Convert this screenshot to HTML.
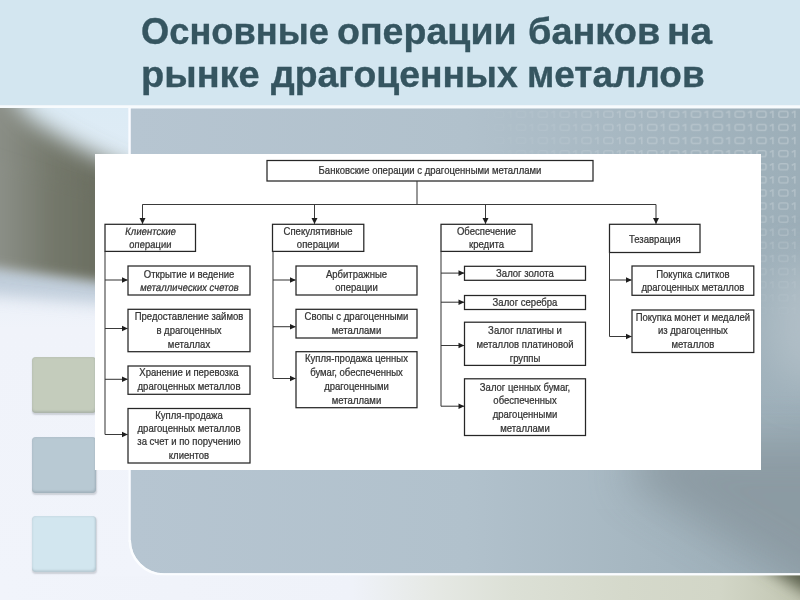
<!DOCTYPE html>
<html lang="ru">
<head>
<meta charset="utf-8">
<title>Основные операции банков на рынке драгоценных металлов</title>
<style>
html,body{margin:0;padding:0;}
body{width:800px;height:600px;overflow:hidden;position:relative;background:#f1f4fb;font-family:"Liberation Sans",sans-serif;}
.abs{position:absolute;}
.sq{left:31.5px;width:64.5px;height:56px;border-radius:4px;box-shadow:0.5px 1.5px 1.5px rgba(60,70,80,0.20), inset -1px -2px 2px rgba(60,70,80,0.12), inset 0 0 2.5px rgba(60,70,80,0.16);}
#sq1{top:356.5px;background:#c4ccbc;}
#sq2{top:436.5px;background:#b8c9d3;}
#sq3{top:515.7px;background:#d2e6ef;}
#title{left:0;top:0;width:800px;height:105px;color:#355560;font-weight:bold;font-size:37px;line-height:41px;white-space:nowrap;}
.tw{-webkit-text-stroke:0.35px #355560;position:absolute;transform-origin:0 0;display:block;white-space:pre;}
#white{left:95.25px;top:154.25px;width:666px;height:315.65px;background:#fff;}
</style>
</head>
<body>
<svg class="abs" id="bg" width="800" height="600" viewBox="0 0 800 600" style="left:0;top:0">
<defs>
<filter id="b8" x="-30%" y="-30%" width="160%" height="160%"><feGaussianBlur stdDeviation="8"/></filter>
<filter id="b6" x="-30%" y="-30%" width="160%" height="160%"><feGaussianBlur stdDeviation="6"/></filter>
<filter id="b11" x="-30%" y="-30%" width="160%" height="160%"><feGaussianBlur stdDeviation="11"/></filter>
<filter id="b14" x="-30%" y="-30%" width="160%" height="160%"><feGaussianBlur stdDeviation="14"/></filter>
<filter id="b22" x="-40%" y="-40%" width="180%" height="180%"><feGaussianBlur stdDeviation="22"/></filter>
<clipPath id="cside"><rect x="0" y="108" width="128.5" height="492"/></clipPath>
<clipPath id="cpanel"><path d="M130.8 108.6H800V573.2H164A33.2 33.2 0 0 1 130.8 540Z"/></clipPath>
<linearGradient id="gband" x1="0" y1="0" x2="128" y2="0" gradientUnits="userSpaceOnUse">
<stop offset="0" stop-color="#8b8f87"/><stop offset="0.4" stop-color="#74786b"/><stop offset="1" stop-color="#65685a"/>
</linearGradient>
<linearGradient id="gsidebase" x1="0" y1="108" x2="0" y2="600" gradientUnits="userSpaceOnUse">
<stop offset="0" stop-color="#dcebf5"/><stop offset="0.3" stop-color="#e6eef7"/><stop offset="0.45" stop-color="#f0f3fa"/><stop offset="1" stop-color="#f1f4fb"/>
</linearGradient>
<linearGradient id="gpanel" x1="132" y1="0" x2="800" y2="0" gradientUnits="userSpaceOnUse">
<stop offset="0" stop-color="#b6c5d1"/><stop offset="0.5" stop-color="#b1c1cc"/><stop offset="0.78" stop-color="#a5b6c0"/><stop offset="1" stop-color="#9caeb8"/>
</linearGradient>
<linearGradient id="gbottom" x1="0" y1="0" x2="800" y2="0" gradientUnits="userSpaceOnUse">
<stop offset="0" stop-color="#f1f4fb"/><stop offset="0.44" stop-color="#eff2f9"/><stop offset="0.54" stop-color="#e6e9e5"/><stop offset="0.64" stop-color="#dce0d6"/><stop offset="0.78" stop-color="#d5d9cb"/><stop offset="0.9" stop-color="#d2d6c7"/><stop offset="1" stop-color="#c2c6b2"/>
</linearGradient>
<clipPath id="cbot"><rect x="0" y="575.5" width="800" height="25"/></clipPath>
<pattern id="bin" x="712.5" y="110.6" width="21.875" height="13.1" patternUnits="userSpaceOnUse">
<rect x="0.75" y="0.75" width="9.1" height="6" rx="1.9" fill="none" stroke="#fff" stroke-width="1.5"/>
<path d="M13.6 2.4L16.75 0.6V7.5" fill="none" stroke="#fff" stroke-width="1.5"/>
</pattern>
<radialGradient id="gmask" cx="800" cy="108" r="1" gradientUnits="userSpaceOnUse" gradientTransform="translate(800 108) scale(330 215) translate(-800 -108)">
<stop offset="0" stop-color="#fff" stop-opacity="1"/><stop offset="0.45" stop-color="#fff" stop-opacity="0.85"/><stop offset="1" stop-color="#fff" stop-opacity="0"/>
</radialGradient>
<mask id="mbin" maskUnits="userSpaceOnUse" x="0" y="0" width="800" height="600"><rect x="400" y="100" width="400" height="300" fill="url(#gmask)"/></mask>
</defs>
<rect x="0" y="0" width="800" height="600" fill="#f1f4fb"/>
<rect x="0" y="0" width="800" height="105.5" fill="#d3e6f0"/>
<rect x="0" y="105.4" width="800" height="3.1" fill="#f7fbfd"/>
<!-- sidebar photo -->
<g clip-path="url(#cside)">
<rect x="0" y="108" width="129" height="492" fill="url(#gsidebase)"/>
<polygon points="-40,258 160,286 160,308 -40,292" fill="#a3b5c6" filter="url(#b8)" opacity="0.6"/>
<polygon points="-40,60 2,76 16,102 31,119 65,140 95,155 160,183 160,262 -40,218" fill="url(#gband)" filter="url(#b11)"/>
<polygon points="-40,150 160,212 160,290 -40,264" fill="url(#gband)" filter="url(#b6)"/>
</g>
<rect x="128.5" y="108" width="2.3" height="434" fill="#fafcff"/>
<!-- panel -->
<path d="M130.8 108.6H800V573.2H164A33.2 33.2 0 0 1 130.8 540Z" fill="url(#gpanel)"/>
<g clip-path="url(#cpanel)">
<ellipse cx="808" cy="325" rx="40" ry="65" fill="#bfcad1" filter="url(#b22)" opacity="0.6"/>
<polygon points="650,440 900,440 900,640 830,604 776,570 628,480" fill="#8b9aa2" filter="url(#b22)" opacity="0.95"/>
<rect x="440" y="108" width="360" height="280" fill="url(#bin)" mask="url(#mbin)" opacity="0.25"/>
</g>
<path d="M129.8 540A34.2 34.2 0 0 0 164 574.4H800" fill="none" stroke="#fbfdff" stroke-width="2.4"/>
<rect x="0" y="575.5" width="800" height="25" fill="url(#gbottom)"/>
<g clip-path="url(#cbot)"><polygon points="755,560 840,560 840,604 805,592" fill="#5a5e4c" filter="url(#b8)"/></g>
</svg>

<div class="abs sq" id="sq1"></div>
<div class="abs sq" id="sq2"></div>
<div class="abs sq" id="sq3"></div>
<div class="abs" id="title"><span class="tw" style="left:141.0px;top:11.0px;transform:scaleX(0.9809)">Основные</span><span class="tw" style="left:337.4px;top:11.0px;transform:scaleX(1.0150)">операции</span><span class="tw" style="left:527.6px;top:11.0px;transform:scaleX(1.0238)">банков</span><span class="tw" style="left:667.2px;top:11.0px;transform:scaleX(1.0500)">на</span><span class="tw" style="left:140.9px;top:54.0px;transform:scaleX(1.0268)">рынке</span><span class="tw" style="left:270.6px;top:54.0px;transform:scaleX(1.0098)">драгоценных</span><span class="tw" style="left:527.4px;top:54.0px;transform:scaleX(0.9977)">металлов</span></div>
<div class="abs" id="white"></div>
<svg class="abs" id="diag" width="800" height="600" viewBox="0 0 800 600" style="left:0;top:0;filter:blur(0.3px)">
<g transform="translate(0 0.5)">
<g fill="none" stroke="#262626" stroke-width="1.25">
<rect x="267" y="160" width="326.0" height="20.5"/>
<rect x="105" y="223.8" width="90.5" height="27.1"/>
<rect x="272.5" y="223.8" width="91.3" height="27.1"/>
<rect x="441" y="223.8" width="91.0" height="27.1"/>
<rect x="609.5" y="223.8" width="90.5" height="28.2"/>
<rect x="128" y="265.5" width="122.0" height="29.0"/>
<rect x="128" y="308.8" width="122.0" height="42.4"/>
<rect x="128" y="365.5" width="122.0" height="28.3"/>
<rect x="128" y="408" width="122.0" height="54.5"/>
<rect x="296" y="265.5" width="121.0" height="29.0"/>
<rect x="296" y="308.8" width="121.0" height="28.7"/>
<rect x="296" y="351.2" width="121.0" height="56.0"/>
<rect x="464.5" y="265.8" width="121.0" height="14.0"/>
<rect x="464.5" y="295" width="121.0" height="14.0"/>
<rect x="464.5" y="321.7" width="121.0" height="43.2"/>
<rect x="464.5" y="378.3" width="121.0" height="56.7"/>
<rect x="632" y="265.5" width="121.8" height="29.3"/>
<rect x="632" y="309.5" width="121.8" height="42.5"/>
</g>
<g fill="none" stroke="#3a3a3a" stroke-width="1.05">
<path d="M417 180.5L417 203.9"/>
<path d="M142.5 203.9L656 203.9"/>
<path d="M105 250.9L105 434"/>
<path d="M273 250.9L273 378"/>
<path d="M441 250.9L441 405.7"/>
<path d="M609.5 252L609.5 336"/>
<path d="M142.5 203.9L142.5 223.3"/>
<path d="M314.5 203.9L314.5 223.3"/>
<path d="M485.5 203.9L485.5 223.3"/>
<path d="M656 203.9L656 223.3"/>
<path d="M105 279.5L127.5 279.5"/>
<path d="M105 328L127.5 328"/>
<path d="M105 378.8L127.5 378.8"/>
<path d="M105 434L127.5 434"/>
<path d="M273 279.5L295.5 279.5"/>
<path d="M273 326.2L295.5 326.2"/>
<path d="M273 378L295.5 378"/>
<path d="M441 272.6L464 272.6"/>
<path d="M441 301.7L464 301.7"/>
<path d="M441 345L464 345"/>
<path d="M441 405.7L464 405.7"/>
<path d="M609.5 279.5L631.5 279.5"/>
<path d="M609.5 336L631.5 336"/>
</g>
<g fill="#1e1e1e">
<path d="M139.5 217.5L145.5 217.5L142.5 223.60000000000002Z"/>
<path d="M311.5 217.5L317.5 217.5L314.5 223.60000000000002Z"/>
<path d="M482.5 217.5L488.5 217.5L485.5 223.60000000000002Z"/>
<path d="M653 217.5L659 217.5L656 223.60000000000002Z"/>
<path d="M122.0 276.7L122.0 282.3L127.8 279.5Z"/>
<path d="M122.0 325.2L122.0 330.8L127.8 328Z"/>
<path d="M122.0 376.0L122.0 381.6L127.8 378.8Z"/>
<path d="M122.0 431.2L122.0 436.8L127.8 434Z"/>
<path d="M290.0 276.7L290.0 282.3L295.8 279.5Z"/>
<path d="M290.0 323.4L290.0 329.0L295.8 326.2Z"/>
<path d="M290.0 375.2L290.0 380.8L295.8 378Z"/>
<path d="M458.5 269.8L458.5 275.40000000000003L464.3 272.6Z"/>
<path d="M458.5 298.9L458.5 304.5L464.3 301.7Z"/>
<path d="M458.5 342.2L458.5 347.8L464.3 345Z"/>
<path d="M458.5 402.9L458.5 408.5L464.3 405.7Z"/>
<path d="M626.0 276.7L626.0 282.3L631.8 279.5Z"/>
<path d="M626.0 333.2L626.0 338.8L631.8 336Z"/>
</g>
<g fill="#333" stroke="#333" stroke-width="0.25" font-family="Liberation Sans, sans-serif" font-size="10.6" text-anchor="middle">
<text transform="translate(430.0 173.8) scale(0.9 1)">Банковские операции с драгоценными металлами</text>
<text transform="translate(150.2 234.6) scale(0.9 1) skewX(-9)">Клиентские</text>
<text transform="translate(150.2 247.9) scale(0.9 1) skewX(-4)">операции</text>
<text transform="translate(318.1 234.6) scale(0.9 1)">Спекулятивные</text>
<text transform="translate(318.1 247.9) scale(0.9 1)">операции</text>
<text transform="translate(486.5 234.6) scale(0.9 1)">Обеспечение</text>
<text transform="translate(486.5 247.9) scale(0.9 1)">кредита</text>
<text transform="translate(654.8 242.0) scale(0.9 1)">Тезаврация</text>
<text transform="translate(189.0 277.0) scale(0.9 1)">Открытие и ведение</text>
<text transform="translate(189.0 290.5) scale(0.9 1) skewX(-9)">металлических счетов</text>
<text transform="translate(189.0 319.2) scale(0.9 1)">Предоставление займов</text>
<text transform="translate(189.0 333.2) scale(0.9 1)">в драгоценных</text>
<text transform="translate(189.0 347.2) scale(0.9 1)">металлах</text>
<text transform="translate(189.0 375.9) scale(0.9 1)">Хранение и перевозка</text>
<text transform="translate(189.0 389.4) scale(0.9 1)">драгоценных металлов</text>
<text transform="translate(189.0 418.4) scale(0.9 1)">Купля-продажа</text>
<text transform="translate(189.0 431.6) scale(0.9 1)">драгоценных металлов</text>
<text transform="translate(189.0 444.9) scale(0.9 1)">за счет и по поручению</text>
<text transform="translate(189.0 458.1) scale(0.9 1)">клиентов</text>
<text transform="translate(356.5 277.0) scale(0.9 1)">Арбитражные</text>
<text transform="translate(356.5 290.5) scale(0.9 1)">операции</text>
<text transform="translate(356.5 319.5) scale(0.9 1)">Свопы с драгоценными</text>
<text transform="translate(356.5 333.0) scale(0.9 1)">металлами</text>
<text transform="translate(356.5 361.7) scale(0.9 1)">Купля-продажа ценных</text>
<text transform="translate(356.5 375.7) scale(0.9 1)">бумаг, обеспеченных</text>
<text transform="translate(356.5 389.7) scale(0.9 1)">драгоценными</text>
<text transform="translate(356.5 403.7) scale(0.9 1)">металлами</text>
<text transform="translate(525.0 276.8) scale(0.9 1)">Залог золота</text>
<text transform="translate(525.0 305.5) scale(0.9 1)">Залог серебра</text>
<text transform="translate(525.0 333.7) scale(0.9 1)">Залог платины и</text>
<text transform="translate(525.0 347.4) scale(0.9 1)">металлов платиновой</text>
<text transform="translate(525.0 361.1) scale(0.9 1)">группы</text>
<text transform="translate(525.0 390.0) scale(0.9 1)">Залог ценных бумаг,</text>
<text transform="translate(525.0 403.9) scale(0.9 1)">обеспеченных</text>
<text transform="translate(525.0 417.8) scale(0.9 1)">драгоценными</text>
<text transform="translate(525.0 431.7) scale(0.9 1)">металлами</text>
<text transform="translate(692.9 277.0) scale(0.9 1)">Покупка слитков</text>
<text transform="translate(692.9 290.5) scale(0.9 1)">драгоценных металлов</text>
<text transform="translate(692.9 320.0) scale(0.9 1)">Покупка монет и медалей</text>
<text transform="translate(692.9 333.8) scale(0.9 1)">из драгоценных</text>
<text transform="translate(692.9 347.5) scale(0.9 1)">металлов</text>
</g>
</g>
</svg>
</body>
</html>
